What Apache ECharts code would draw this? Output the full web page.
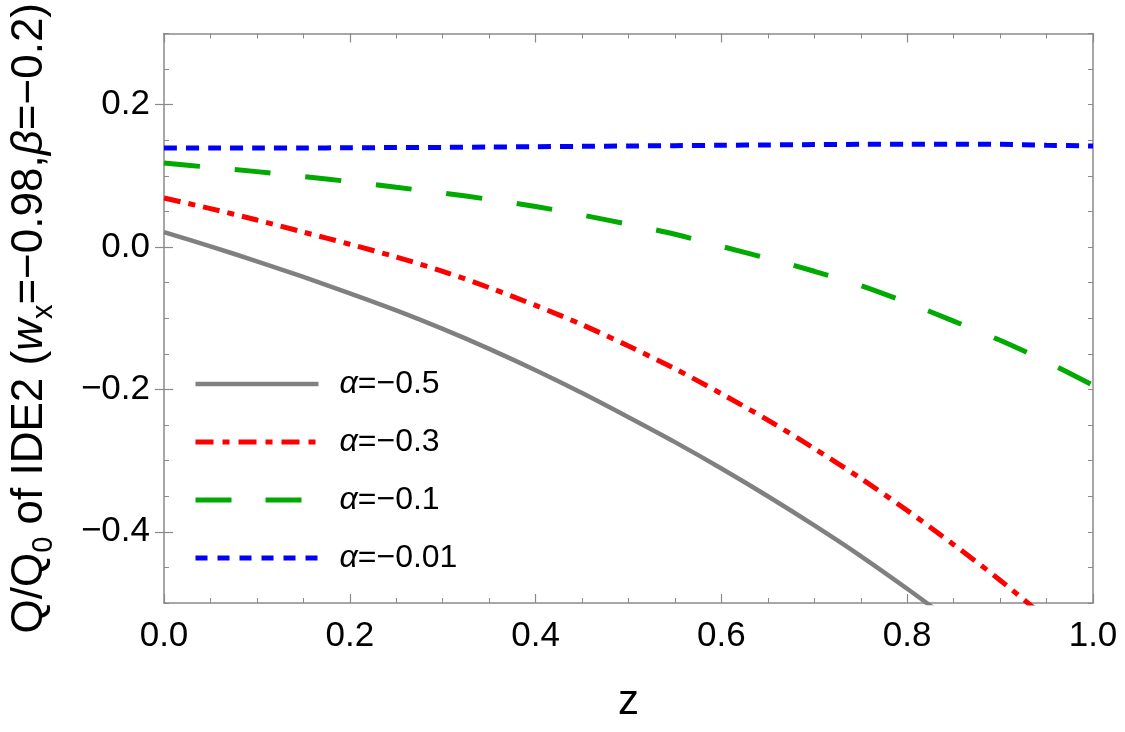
<!DOCTYPE html>
<html>
<head>
<meta charset="utf-8">
<script src="https://cdn.jsdelivr.net/npm/echarts@6/dist/echarts.min.js"></script>
<style>
  html, body { margin: 0; padding: 0; background: #fff; }
  #main { width: 1125px; height: 732px; }
</style>
</head>
<body>
<div id="main"></div>
<script>
// z grid and curves
var zs = [0, 0.05, 0.1, 0.15, 0.2, 0.25, 0.3, 0.35, 0.4, 0.45, 0.5,
          0.55, 0.6, 0.65, 0.7, 0.75, 0.8, 0.85, 0.9, 0.95, 1.0];

var alphaNames = ['α=−0.5', 'α=−0.3', 'α=−0.1', 'α=−0.01'];

var qGray = [0.021, 0.001, -0.020, -0.042, -0.065, -0.089, -0.115, -0.143, -0.173, -0.205, -0.239,
             -0.274, -0.311, -0.350, -0.391, -0.434, -0.480, -0.528];
var qRed = [0.069, 0.054, 0.038, 0.021, 0.004, -0.014, -0.034, -0.057, -0.082, -0.109, -0.139,
            -0.171, -0.206, -0.243, -0.283, -0.325, -0.370, -0.418, -0.468, -0.522];
var qGreen = [0.118, 0.112, 0.106, 0.099, 0.092, 0.084, 0.076, 0.067, 0.057, 0.045, 0.032,
              0.018, 0.001, -0.016, -0.034, -0.054, -0.078, -0.104, -0.131, -0.161, -0.194];
var qBlue = [0.139, 0.139, 0.139, 0.1392, 0.1395, 0.1398, 0.140, 0.1405, 0.141, 0.1415, 0.142,
             0.1425, 0.143, 0.1435, 0.144, 0.1443, 0.1445, 0.1445, 0.1443, 0.143, 0.142];

var yMajor = [-0.4, -0.2, 0, 0.2];

function pairs(vals) {
  return vals.map(function (v, i) { return [zs[i], v]; });
}

var frameColor = '#8a8a8a';
var font = "'Liberation Sans', Arial, sans-serif";

function fmt(v) {
  if (Math.abs(v) < 1e-9) return '0.0';
  return (v < 0 ? '−' : '') + Math.abs(v).toFixed(1);
}

function xAx(pos, labels) {
  return {
    type: 'value', position: pos, min: 0, max: 1, interval: 0.2,
    axisLine: { show: true, onZero: false, lineStyle: { color: frameColor, width: 1.5 } },
    axisTick: { show: true, inside: true, length: 9, lineStyle: { color: frameColor, width: 1.2 } },
    minorTick: { show: true, splitNumber: 4, length: 5, lineStyle: { color: frameColor, width: 1 } },
    axisLabel: { show: labels, margin: 16, fontSize: 35, color: '#000', fontFamily: font, formatter: fmt },
    splitLine: { show: false },
    name: labels ? 'z' : '', nameLocation: 'middle', nameGap: 78,
    nameTextStyle: { fontSize: 42, color: '#000', fontFamily: font }
  };
}

function yShort(pos) {
  return {
    type: 'value', position: pos, min: -0.5, max: 0.3, interval: 0.05,
    axisLine: { show: true, onZero: false, lineStyle: { color: frameColor, width: 1.5 } },
    axisTick: { show: true, inside: true, length: 5, lineStyle: { color: frameColor, width: 1 } },
    axisLabel: { show: false },
    splitLine: { show: false }
  };
}

function yLong(pos, labels) {
  var ax = {
    type: 'value', position: pos, min: -0.5, max: 0.3, interval: 0.05,
    axisLine: { show: false },
    axisTick: { show: true, inside: true, length: 9, customValues: yMajor, lineStyle: { color: frameColor, width: 1.2 } },
    axisLabel: { show: labels, customValues: yMajor, margin: 14, fontSize: 35, color: '#000', fontFamily: font, formatter: fmt },
    splitLine: { show: false }
  };
  if (labels) {
    ax.name = '{n|Q/Q}{sub|0}{n| of IDE2 (}{it|w}{sub|x}{n|=−0.98,}{it|β}{n|=−0.2)}';
    ax.nameLocation = 'middle';
    ax.nameRotate = 90;
    ax.nameGap = 106;
    ax.nameTextStyle = {
      color: '#000', fontFamily: font,
      rich: {
        n: { fontSize: 44, lineHeight: 56, fontFamily: font, color: '#000' },
        it: { fontSize: 44, lineHeight: 56, fontStyle: 'italic', fontFamily: font, color: '#000' },
        sub: { fontSize: 29, lineHeight: 29, verticalAlign: 'bottom', fontFamily: font, color: '#000' }
      }
    };
  }
  return ax;
}

var styles = [
  { color: '#808080', width: 4.5, type: 'solid' },
  { color: '#ff0000', width: 5, type: [17, 8, 7, 8] },
  { color: '#00aa00', width: 5, type: [36, 35] },
  { color: '#0000ff', width: 5, type: [13, 9] }
];
var legendDash = [
  'solid',
  [18, 9, 7, 9],
  [36, 34],
  [12, 10]
];
var curves = [qGray, qRed, qGreen, qBlue];

var series = curves.map(function (vals, i) {
  return {
    name: alphaNames[i],
    type: 'line',
    xAxisIndex: 0,
    yAxisIndex: 0,
    data: pairs(vals),
    smooth: 0.3,
    symbol: 'none',
    clip: true,
    lineStyle: styles[i],
    itemStyle: { color: styles[i].color },
    z: 10 - i
  };
});

var legendData = alphaNames.map(function (n, i) {
  return {
    name: n,
    itemStyle: { opacity: 0 },
    lineStyle: { color: styles[i].color, width: styles[i].width, type: legendDash[i], opacity: 1 }
  };
});

var myChart = echarts.init(document.getElementById('main'));

var option = {
  backgroundColor: '#fff',
  animation: false,
  grid: { left: 163, right: 32, top: 30, bottom: 129, containLabel: false },
  legend: {
    orient: 'vertical',
    left: 188,
    top: 363,
    itemWidth: 123,
    itemHeight: 14,
    itemGap: 26,
    data: legendData,
    itemStyle: { opacity: 0 },
    formatter: function (name) {
      return '{i|α}{t|' + name.slice(1) + '}';
    },
    textStyle: {
      rich: {
        i: { fontSize: 32, lineHeight: 34, fontStyle: 'italic', fontFamily: font, color: '#000', padding: [0, 0, 0, 16] },
        t: { fontSize: 32, lineHeight: 34, fontFamily: font, color: '#000' }
      }
    }
  },
  xAxis: [xAx('bottom', true), xAx('top', false)],
  yAxis: [yShort('left'), yLong('left', true), yShort('right'), yLong('right', false)],
  series: series
};

myChart.setOption(option);
</script>
</body>
</html>
